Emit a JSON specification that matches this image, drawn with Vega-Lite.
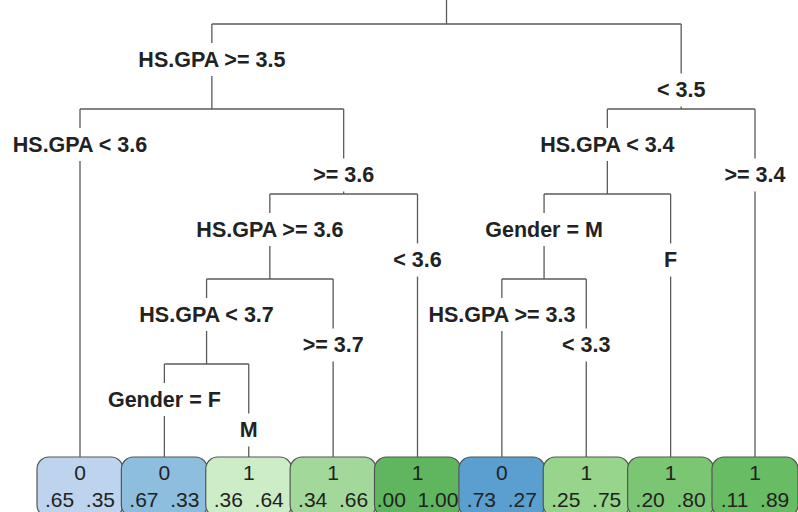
{
  "$schema": "https://vega.github.io/schema/vega-lite/v6.json",
  "width": 798,
  "height": 512,
  "autosize": {"type": "none"},
  "padding": 0,
  "background": "white",
  "config": {"view": {"stroke": null}},
  "datasets": {
    "edges": [
      {"x": 5.34375, "x2": 5.34375, "y": -0.3, "y2": 0},
      {"x": 2.5625, "x2": 8.125, "y": 0, "y2": 0},
      {"x": 1, "x2": 4.125, "y": 1, "y2": 1},
      {"x": 7.25, "x2": 9, "y": 1, "y2": 1},
      {"x": 3.25, "x2": 5, "y": 2, "y2": 2},
      {"x": 6.5, "x2": 8, "y": 2, "y2": 2},
      {"x": 2.5, "x2": 4, "y": 3, "y2": 3},
      {"x": 6, "x2": 7, "y": 3, "y2": 3},
      {"x": 2, "x2": 3, "y": 4, "y2": 4},
      {"x": 2.5625, "x2": 2.5625, "y": 0, "y2": 0.224},
      {"x": 2.5625, "x2": 2.5625, "y": 0.612, "y2": 1},
      {"x": 8.125, "x2": 8.125, "y": 0, "y2": 0.582},
      {"x": 8.125, "x2": 8.125, "y": 0.971, "y2": 1},
      {"x": 1, "x2": 1, "y": 1, "y2": 1.224},
      {"x": 1, "x2": 1, "y": 1.612, "y2": 5.094},
      {"x": 4.125, "x2": 4.125, "y": 1, "y2": 1.582},
      {"x": 4.125, "x2": 4.125, "y": 1.971, "y2": 2},
      {"x": 7.25, "x2": 7.25, "y": 1, "y2": 1.224},
      {"x": 7.25, "x2": 7.25, "y": 1.612, "y2": 2},
      {"x": 9, "x2": 9, "y": 1, "y2": 1.582},
      {"x": 9, "x2": 9, "y": 1.971, "y2": 5.094},
      {"x": 3.25, "x2": 3.25, "y": 2, "y2": 2.224},
      {"x": 3.25, "x2": 3.25, "y": 2.612, "y2": 3},
      {"x": 5, "x2": 5, "y": 2, "y2": 2.582},
      {"x": 5, "x2": 5, "y": 2.971, "y2": 5.094},
      {"x": 6.5, "x2": 6.5, "y": 2, "y2": 2.224},
      {"x": 6.5, "x2": 6.5, "y": 2.612, "y2": 3},
      {"x": 8, "x2": 8, "y": 2, "y2": 2.582},
      {"x": 8, "x2": 8, "y": 2.971, "y2": 5.094},
      {"x": 2.5, "x2": 2.5, "y": 3, "y2": 3.224},
      {"x": 2.5, "x2": 2.5, "y": 3.612, "y2": 4},
      {"x": 4, "x2": 4, "y": 3, "y2": 3.582},
      {"x": 4, "x2": 4, "y": 3.971, "y2": 5.094},
      {"x": 6, "x2": 6, "y": 3, "y2": 3.224},
      {"x": 6, "x2": 6, "y": 3.612, "y2": 5.094},
      {"x": 7, "x2": 7, "y": 3, "y2": 3.582},
      {"x": 7, "x2": 7, "y": 3.971, "y2": 5.094},
      {"x": 2, "x2": 2, "y": 4, "y2": 4.224},
      {"x": 2, "x2": 2, "y": 4.612, "y2": 5.094},
      {"x": 3, "x2": 3, "y": 4, "y2": 4.582},
      {"x": 3, "x2": 3, "y": 4.971, "y2": 5.094}
    ],
    "labels": [
      {"x": 2.5625, "y": 0.435, "text": "HS.GPA >= 3.5"},
      {"x": 8.125, "y": 0.794, "text": "< 3.5"},
      {"x": 1, "y": 1.435, "text": "HS.GPA < 3.6"},
      {"x": 4.125, "y": 1.794, "text": ">= 3.6"},
      {"x": 7.25, "y": 1.435, "text": "HS.GPA < 3.4"},
      {"x": 9, "y": 1.794, "text": ">= 3.4"},
      {"x": 3.25, "y": 2.435, "text": "HS.GPA >= 3.6"},
      {"x": 5, "y": 2.794, "text": "< 3.6"},
      {"x": 6.5, "y": 2.435, "text": "Gender = M"},
      {"x": 8, "y": 2.794, "text": "F"},
      {"x": 2.5, "y": 3.435, "text": "HS.GPA < 3.7"},
      {"x": 4, "y": 3.794, "text": ">= 3.7"},
      {"x": 6, "y": 3.435, "text": "HS.GPA >= 3.3"},
      {"x": 7, "y": 3.794, "text": "< 3.3"},
      {"x": 2, "y": 4.435, "text": "Gender = F"},
      {"x": 3, "y": 4.794, "text": "M"}
    ],
    "leaves": [
      {"leaf": "L1", "x": 1, "cls": "0", "probs": ".65\u00a0\u00a0.35"},
      {"leaf": "L2", "x": 2, "cls": "0", "probs": ".67\u00a0\u00a0.33"},
      {"leaf": "L3", "x": 3, "cls": "1", "probs": ".36\u00a0\u00a0.64"},
      {"leaf": "L4", "x": 4, "cls": "1", "probs": ".34\u00a0\u00a0.66"},
      {"leaf": "L5", "x": 5, "cls": "1", "probs": ".00\u00a0\u00a01.00"},
      {"leaf": "L6", "x": 6, "cls": "0", "probs": ".73\u00a0\u00a0.27"},
      {"leaf": "L7", "x": 7, "cls": "1", "probs": ".25\u00a0\u00a0.75"},
      {"leaf": "L8", "x": 8, "cls": "1", "probs": ".20\u00a0\u00a0.80"},
      {"leaf": "L9", "x": 9, "cls": "1", "probs": ".11\u00a0\u00a0.89"}
    ]
  },
  "layer": [
    {
      "data": {"name": "edges"},
      "mark": {"type": "rule", "color": "#5a5a5a", "strokeWidth": 1.3},
      "encoding": {
        "x": {"field": "x", "type": "quantitative", "axis": null, "scale": {"domain": [0.05185, 9.50963], "nice": false, "zero": false}},
        "x2": {"field": "x2"},
        "y": {"field": "y", "type": "quantitative", "axis": null, "scale": {"domain": [-0.282353, 5.741176], "reverse": true, "nice": false, "zero": false}},
        "y2": {"field": "y2"}
      }
    },
    {
      "data": {"name": "labels"},
      "mark": {"type": "text", "font": "Liberation Sans", "fontWeight": "bold", "fontSize": 21.5, "color": "#222222", "baseline": "middle", "align": "center"},
      "encoding": {
        "x": {"field": "x", "type": "quantitative", "axis": null, "scale": {"domain": [0.05185, 9.50963], "nice": false, "zero": false}},
        "y": {"field": "y", "type": "quantitative", "axis": null, "scale": {"domain": [-0.282353, 5.741176], "reverse": true, "nice": false, "zero": false}},
        "text": {"field": "text"}
      }
    },
    {
      "data": {"name": "leaves"},
      "mark": {"type": "rect", "width": 86, "cornerRadius": 12, "stroke": "#555555", "strokeWidth": 1.2, "clip": true},
      "encoding": {
        "x": {"field": "x", "type": "quantitative", "axis": null, "scale": {"domain": [0.05185, 9.50963], "nice": false, "zero": false}},
        "y": {"datum": 5.094, "type": "quantitative", "axis": null, "scale": {"domain": [-0.282353, 5.741176], "reverse": true, "nice": false, "zero": false}},
        "y2": {"datum": 5.8},
        "fill": {"field": "leaf", "type": "nominal", "legend": null, "scale": {"domain": ["L1","L2","L3","L4","L5","L6","L7","L8","L9"], "range": ["#BED4EE","#8EBEDD","#CDEDC6","#A2D99B","#5FB65F","#5A9FD0","#97D48C","#7BC673","#68BC63"]}}
      }
    },
    {
      "data": {"name": "leaves"},
      "mark": {"type": "text", "font": "Liberation Sans", "fontSize": 21, "color": "#222222", "baseline": "middle", "align": "center"},
      "encoding": {
        "x": {"field": "x", "type": "quantitative", "axis": null, "scale": {"domain": [0.05185, 9.50963], "nice": false, "zero": false}},
        "y": {"datum": 5.29, "type": "quantitative", "axis": null, "scale": {"domain": [-0.282353, 5.741176], "reverse": true, "nice": false, "zero": false}},
        "text": {"field": "cls"}
      }
    },
    {
      "data": {"name": "leaves"},
      "mark": {"type": "text", "font": "Liberation Sans", "fontSize": 21, "color": "#222222", "baseline": "middle", "align": "center"},
      "encoding": {
        "x": {"field": "x", "type": "quantitative", "axis": null, "scale": {"domain": [0.05185, 9.50963], "nice": false, "zero": false}},
        "y": {"datum": 5.61, "type": "quantitative", "axis": null, "scale": {"domain": [-0.282353, 5.741176], "reverse": true, "nice": false, "zero": false}},
        "text": {"field": "probs"}
      }
    }
  ]
}
